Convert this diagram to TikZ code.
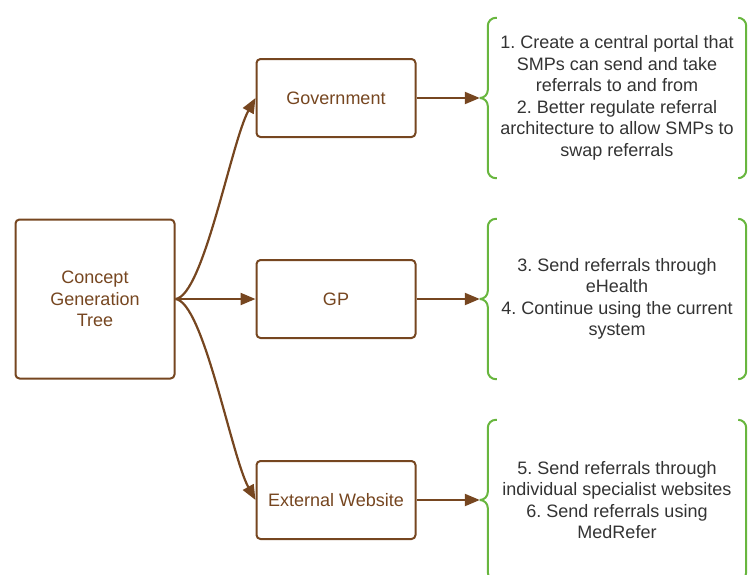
\documentclass[tikz,border=0pt]{standalone}
\usepackage{fontspec}
\setmainfont{Liberation Sans}
\usetikzlibrary{arrows.meta}
\frenchspacing

\definecolor{treebrown}{RGB}{118,70,32}
\definecolor{bracegreen}{RGB}{104,182,62}
\definecolor{ideagray}{RGB}{51,51,51}

\tikzset{
  box/.style={rectangle, draw=treebrown, line width=2pt, rounded corners=4pt,
    text=treebrown, align=center, font=\fontsize{18}{21.5}\selectfont},
  idea/.style={rectangle, minimum width=258pt, minimum height=160pt,
    text=ideagray, align=center, font=\fontsize{18}{21.5}\selectfont},
  link/.style={draw=treebrown, line width=2.2pt, -{Triangle[length=15pt,width=12pt]}},
  brace/.style={draw=bracegreen, line width=2pt, rounded corners=8pt},
}

\begin{document}
\begin{tikzpicture}[x=1pt, y=1pt]
      \clip (0,0) rectangle (748,-574);
      \node (concept) [box, minimum width=159pt, minimum height=159pt] at (95,-299) {Concept\\Generation\\Tree};
      \node (gp) [box, minimum width=159pt, minimum height=78pt, node distance=241pt, right of=concept] {GP};
      \node (gov) [box, minimum width=159pt, minimum height=78pt, node distance=201pt, above of=gp] {Government};
      \node (ext) [box, minimum width=159pt, minimum height=78pt, node distance=201pt, below of=gp] {External Website};
      \node (govideas) [idea, node distance=281pt, right of=gov] {1. Create a central portal that\\SMPs can send and take\\referrals to and from\\2. Better regulate referral\\architecture to allow SMPs to\\swap referrals};
      \node (gpideas) [idea, node distance=281pt, right of=gp] {3. Send referrals through\\eHealth\\4. Continue using the current\\system};
      \node (extideas) [idea, node distance=281pt, right of=ext] {5. Send referrals through\\individual specialist websites\\6. Send referrals using\\MedRefer};
      \coordinate (govtip) at ([xshift=-8pt]govideas.west);
      \coordinate (gptip) at ([xshift=-8pt]gpideas.west);
      \coordinate (exttip) at ([xshift=-8pt]extideas.west);
      % braces round the ideas
      \draw [brace] ([xshift=9pt]govideas.north west) -- (govideas.north west) -- (govideas.west) -- (govtip)
        (govtip) -- (govideas.west) -- (govideas.south west) -- ([xshift=9pt]govideas.south west);
      \draw [brace] ([xshift=9pt]gpideas.north west) -- (gpideas.north west) -- (gpideas.west) -- (gptip)
        (gptip) -- (gpideas.west) -- (gpideas.south west) -- ([xshift=9pt]gpideas.south west);
      \draw [brace] ([xshift=9pt]extideas.north west) -- (extideas.north west) -- (extideas.west) -- (exttip)
        (exttip) -- (extideas.west) -- (extideas.south west) -- ([xshift=9pt]extideas.south west);
      \draw [brace] ([xshift=-8pt]govideas.north east) -- (govideas.north east) -- (govideas.south east) -- ([xshift=-8pt]govideas.south east);
      \draw [brace] ([xshift=-8pt]gpideas.north east) -- (gpideas.north east) -- (gpideas.south east) -- ([xshift=-8pt]gpideas.south east);
      \draw [brace] ([xshift=-8pt]extideas.north east) -- (extideas.north east) -- (extideas.south east) -- ([xshift=-8pt]extideas.south east);
      % branches
      \draw [link] (concept.east) .. controls +(28,3) and +(-24,-43) .. (gov.west);
      \draw [link] (concept) -- (gp);
      \draw [link] (concept.east) .. controls +(28,-3) and +(-24,43) .. (ext.west);
      \draw [link] (gov) -- (govtip);
      \draw [link] (gp) -- (gptip);
      \draw [link] (ext) -- (exttip);
  \end{tikzpicture}
\end{document}
